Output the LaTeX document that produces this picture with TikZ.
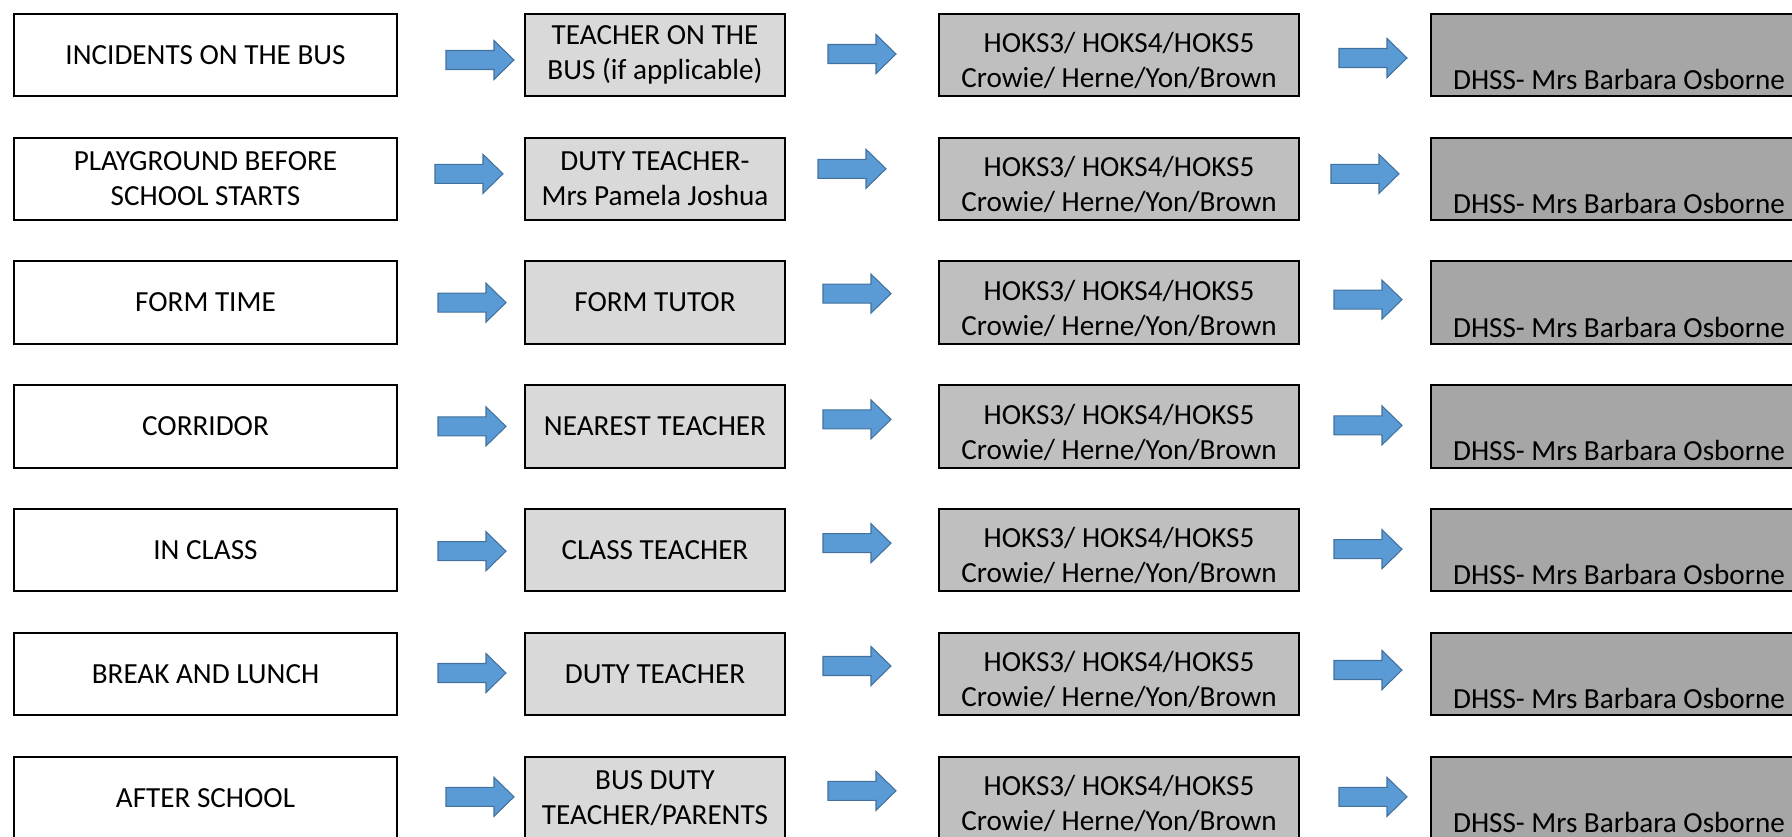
\documentclass[tikz,border=0pt]{standalone}
\usepackage{fontspec}
\setmainfont{Carlito}
\definecolor{firstgrey}{HTML}{D9D9D9}
\definecolor{hoksgrey}{HTML}{BFBFBF}
\definecolor{dhssgrey}{HTML}{A6A6A6}
\definecolor{arrowblue}{HTML}{5B9BD5}
\definecolor{arrowedge}{HTML}{41719C}
\tikzset{
  place/.style={draw,line width=1.1pt,minimum height=1.65cm,inner sep=0pt,align=center},
  blockarrow/.style={fill=arrowblue,draw=arrowedge,line width=0.6pt,line join=miter}
}
\begin{document}
\begin{tikzpicture}[x=0.02cm,y=-0.02cm,
    every node/.append style={font=\fontsize{16.6}{20}\selectfont}]
  \useasboundingbox (0,0) rectangle (1792,836);
  \clip (0,0) rectangle (1792,836);
  % one row per situation
  \foreach \r/\sit/\who in {1/INCIDENTS ON THE BUS/{TEACHER ON THE\\BUS (if applicable)},
      2/{PLAYGROUND BEFORE\\SCHOOL STARTS}/{DUTY TEACHER-\\Mrs Pamela Joshua},
      3/FORM TIME/FORM TUTOR,
      4/CORRIDOR/NEAREST TEACHER,
      5/IN CLASS/CLASS TEACHER,
      6/BREAK AND LUNCH/DUTY TEACHER,
      7/AFTER SCHOOL/{BUS DUTY\\TEACHER/PARENTS}} {
    \node[place,fill=white,minimum width=7.66cm] (a\r) at (205.5,{55+(\r-1)*123.8}) {\sit};
    \node[place,fill=firstgrey,minimum width=5.2cm] (b\r) at (655,{55+(\r-1)*123.8}) {\who};
    \node[place,fill=hoksgrey,minimum width=7.2cm] (c\r) at (1119,{55+(\r-1)*123.8}) {\rule{0pt}{18pt}HOKS3/ HOKS4/HOKS5\\Crowie/ Herne/Yon/Brown};
    \node[place,fill=dhssgrey,minimum width=7.52cm] (d\r) at (1619,{55+(\r-1)*123.8}) {};
    \node[anchor=base,yshift=0.155cm] (dl\r) at (d\r.south) {DHSS- Mrs Barbara Osborne};
  }
  % block arrows between the columns
  \foreach \r/\xa/\da/\xb/\db/\xc/\dc in {1/446/5/828/-1/1339/3, 2/435/-5/818/-10/1331/-5,
      3/438/0/823/-9/1334/-3, 4/438/0/823/-7/1334/-1, 5/438/1/823/-7/1334/-1,
      6/438/-1/823/-8/1334/-4, 7/446/-1/828/-7/1339/-1} {
    \foreach \x/\d [count=\k] in {\xa/\da,\xb/\db,\xc/\dc} {
      \coordinate (t\r-\k) at (\x,{55+(\r-1)*123.8+\d});
      \draw[blockarrow] (t\r-\k) ++(0,-9.5) -- ++(48,0) -- ++(0,-10) -- ++(20,19.5)
        -- ++(-20,19.5) -- ++(0,-10) -- ++(-48,0) -- cycle;
    }
  }
\end{tikzpicture}
\end{document}
